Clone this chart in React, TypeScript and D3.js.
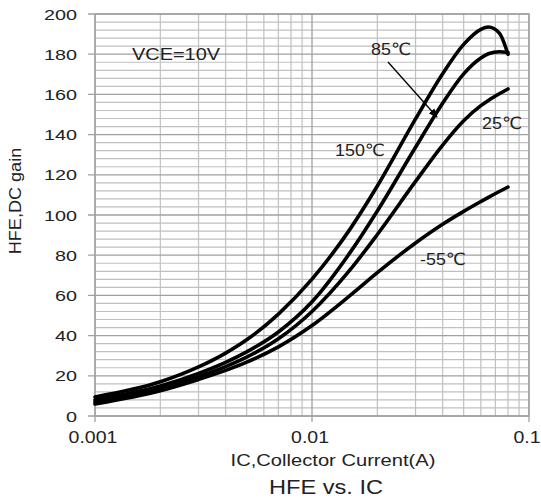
import React from "react";
import * as d3 from "d3";

const IC = [0.001, 0.002, 0.003, 0.004, 0.005, 0.007, 0.01, 0.015, 0.02, 0.03, 0.04, 0.05, 0.06, 0.065, 0.073, 0.08];
const HFE_150 = [9.5, 17, 24.4, 31.3, 37.9, 50.7, 68.1, 93.1, 114.4, 147.8, 170.3, 184.9, 192.4, 193.5, 190.5, 180];
const HFE_85 = [8, 14.9, 21.2, 26.7, 31.9, 41.8, 56.8, 81.4, 102, 133.7, 155.6, 170.2, 178.1, 180.2, 181.2, 180.8];
const HFE_25 = [7, 13.6, 19.6, 24.6, 29.3, 38.4, 52, 72.8, 90.3, 116.7, 134.8, 146.9, 154.4, 157, 160.3, 162.7];
const HFE_M55 = [6, 12.6, 18.2, 22.7, 26.8, 34.4, 45, 60, 71.3, 86.1, 95.4, 101.8, 106.7, 108.8, 111.7, 113.9];
const SERIES = [HFE_150, HFE_85, HFE_25, HFE_M55];

const Y_TICKS = [0, 20, 40, 60, 80, 100, 120, 140, 160, 180, 200];
const X_TICKS = [0.001, 0.01, 0.1];
const X_TICK_LABELS = ["0.001", "0.01", "0.1"];

const W = 541, H = 499;
const L = 95, R = 529, TOP = 14, BOT = 416;
const FONT = "'Liberation Sans', Arial, 'DejaVu Sans', sans-serif";

function T(props: { x: number; y: number; sx?: number; size: number; anchor?: string; rot?: number; children: any }) {
  const { x, y, sx = 1, size, anchor = "start", rot = 0, children } = props;
  return (
    <text
      transform={`translate(${x},${y}) rotate(${rot}) scale(${sx},1)`}
      textAnchor={anchor as any}
      fontSize={size}
      fontFamily={FONT}
      fill="#222"
    >
      {children}
    </text>
  );
}

export default function App() {
  const x = d3.scaleLog().domain([0.001, 0.1]).range([L, R]);
  const y = d3.scaleLinear().domain([0, 200]).range([BOT, TOP]);
  const minorX = x.ticks().filter((t) => !X_TICKS.some((m) => Math.abs(m - t) < 1e-9));
  const minorY = d3.range(0, 201, 4).filter((v) => v % 20 !== 0);
  const line = d3
    .line<number>()
    .x((_, i) => x(IC[i]))
    .y((v) => y(v))
    .curve(d3.curveMonotoneX);

  return (
    <svg width={W} height={H} style={{ position: "absolute", left: 0, top: 0, background: "#fff" }}>
      <defs>
        <marker id="ah" viewBox="0 0 10 10" refX="9" refY="5" markerWidth="9" markerHeight="9" orient="auto" markerUnits="userSpaceOnUse">
          <path d="M0,1 L10,5 L0,9 Z" fill="#000" />
        </marker>
      </defs>
      <rect x={0} y={0} width={W} height={H} fill="#fff" />
      {/* minor grid */}
      {minorY.map((v) => (
        <line key={"my" + v} x1={L} x2={R} y1={y(v)} y2={y(v)} stroke="#c0c0c0" strokeWidth={1.2} />
      ))}
      {minorX.map((v) => (
        <line key={"mx" + v} x1={x(v)} x2={x(v)} y1={TOP} y2={BOT} stroke="#c0c0c0" strokeWidth={1.2} />
      ))}
      {/* major grid */}
      {Y_TICKS.map((v) => (
        <line key={"gy" + v} x1={L - 7} x2={R} y1={y(v)} y2={y(v)} stroke="#a0a0a0" strokeWidth={1.3} />
      ))}
      {X_TICKS.map((v) => (
        <line key={"gx" + v} x1={x(v)} x2={x(v)} y1={TOP} y2={BOT + 6} stroke="#a0a0a0" strokeWidth={1.3} />
      ))}
      <rect x={L} y={TOP} width={R - L} height={BOT - TOP} fill="none" stroke="#a0a0a0" strokeWidth={1.3} />

      {/* curves */}
      {SERIES.map((s, i) => (
        <path key={"s" + i} d={line(s) || ""} fill="none" stroke="#000" strokeWidth={3.6} strokeLinejoin="round" strokeLinecap="round" />
      ))}

      {/* y tick labels */}
      {Y_TICKS.map((v) => (
        <T key={"yl" + v} x={77} y={y(v) + 5.5} sx={1.32} size={15} anchor="end">
          {String(v)}
        </T>
      ))}
      {/* x tick labels */}
      {X_TICKS.map((v, i) => (
        <T key={"xl" + v} x={x(v) - 2} y={443} sx={1.22} size={16} anchor="middle">
          {X_TICK_LABELS[i]}
        </T>
      ))}

      {/* axis titles */}
      <T x={333} y={466} sx={1.26} size={16} anchor="middle">IC,Collector Current(A)</T>
      <T x={326} y={494} sx={1.18} size={20} anchor="middle">HFE vs. IC</T>
      <T x={21} y={201} sx={1.13} size={16} anchor="middle" rot={-90}>HFE,DC gain</T>

      {/* annotations */}
      <T x={176} y={60} sx={1.17} size={17} anchor="middle">VCE=10V</T>
      <T x={391} y={55} sx={1.05} size={17} anchor="middle">85℃</T>
      <T x={360} y={156} sx={1.05} size={17} anchor="middle">150℃</T>
      <T x={502} y={129} sx={1.05} size={17} anchor="middle">25℃</T>
      <T x={443} y={265} sx={1.05} size={17} anchor="middle">-55℃</T>
      <line x1={388} y1={62} x2={437} y2={117} stroke="#000" strokeWidth={1.3} markerEnd="url(#ah)" />
    </svg>
  );
}
